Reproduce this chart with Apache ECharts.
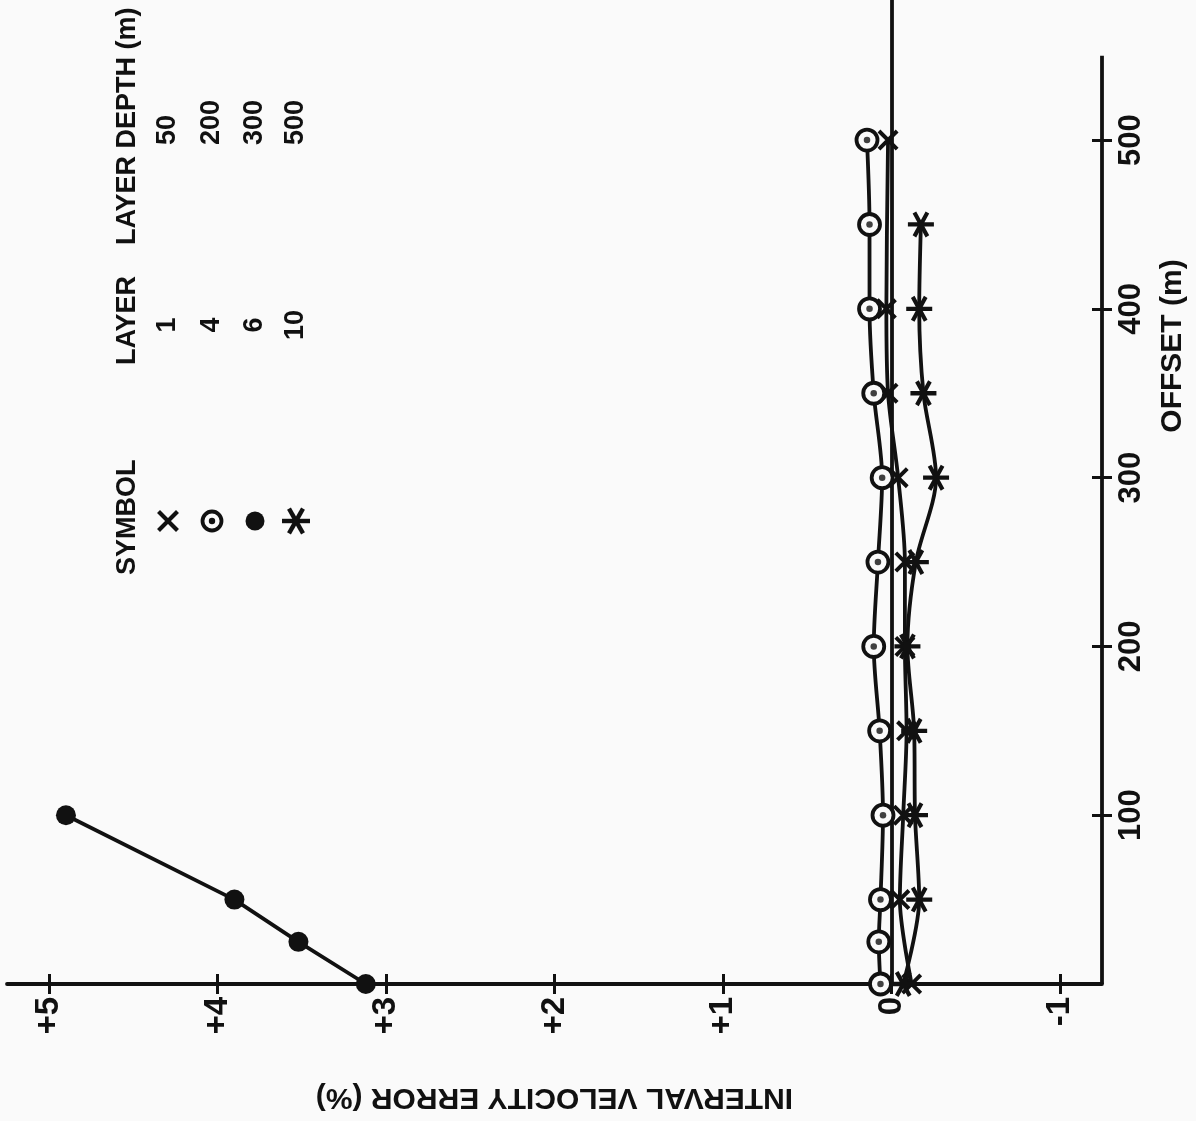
<!DOCTYPE html>
<html>
<head>
<meta charset="utf-8">
<script src="https://cdn.jsdelivr.net/npm/echarts@6/dist/echarts.min.js"></script>
<style>
html,body{margin:0;padding:0;background:#fafafa;}
#chart{width:1196px;height:1121px;}
</style>
</head>
<body>
<div id="chart"></div>
<script>
// ---------------- DATA ----------------
const errorTicks = [-1, 0, 1, 2, 3, 4, 5];
const errorTickLabels = ['-1', '0', '+1', '+2', '+3', '+4', '+5'];
const offsetTicks = [100, 200, 300, 400, 500];
const offsetTickLabels = ['100', '200', '300', '400', '500'];

// Layer 1 (depth 50 m) - cross symbol
const layer1Offset = [0, 50, 100, 150, 200, 250, 300, 350, 400, 500];
const layer1Error  = [-0.12, -0.05, -0.07, -0.09, -0.08, -0.08, -0.04, 0.02, 0.03, 0.02];
// Layer 4 (depth 200 m) - ringed dot
const layer4Offset = [0, 25, 50, 100, 150, 200, 250, 300, 350, 400, 450, 500];
const layer4Error  = [0.065, 0.075, 0.065, 0.05, 0.07, 0.105, 0.08, 0.055, 0.105, 0.13, 0.13, 0.145];
// Layer 6 (depth 300 m) - filled dot
const layer6Offset = [0, 25, 50, 100];
const layer6Error  = [3.12, 3.52, 3.9, 4.9];
// Layer 10 (depth 500 m) - asterisk
const layer10Offset = [0, 50, 100, 150, 200, 250, 300, 350, 400, 450];
const layer10Error  = [-0.07, -0.165, -0.14, -0.135, -0.095, -0.145, -0.265, -0.19, -0.165, -0.175];

// legend table
const legendLayers = ['1', '4', '6', '10'];
const legendDepths = ['50', '200', '300', '500'];

// axis extents
const ERR_MIN = -1.25, ERR_MAX = 5.25;
const OFF_MIN = 0, OFF_MAX = 583, OFF_AXIS_TOP = 550;

// ---------------- STYLE ----------------
const INK = '#111';
const BG = '#fafafa';
const FONT = '"Liberation Sans", Arial, sans-serif';
const FS = 31;      // axis text
const LFS = 27;     // legend text

// marker outlines in a 24x24 box
const X_BARS = [
  [[1.5, 4.3], [4.3, 1.5], [22.5, 19.7], [19.7, 22.5]],
  [[19.7, 1.5], [22.5, 4.3], [4.3, 22.5], [1.5, 19.7]]
];
const STAR_BARS = [
  [[0, 10.1], [24, 10.1], [24, 13.9], [0, 13.9]],
  [[4.35, 2.36], [7.65, 0.46], [19.65, 21.64], [16.35, 23.54]],
  [[16.35, 0.46], [19.65, 2.36], [7.65, 23.54], [4.35, 21.64]]
];
function toPath(bars) {
  return 'path://' + bars.map(b => 'M' + b.map(p => p[0] + ' ' + p[1]).join('L') + 'Z').join(' ');
}
const X_PATH = toPath(X_BARS);
const STAR_PATH = toPath(STAR_BARS);

function pairs(errs, offs) { return offs.map((o, i) => [errs[i], o]); }

const lineBase = {
  type: 'line', xAxisIndex: 0, yAxisIndex: 0, smooth: 0.3,
  lineStyle: { color: INK, width: 3.8 }, itemStyle: { color: INK },
  animation: false, z: 3
};
const tickLine = { color: INK, width: 3 };
const textBase = { color: INK, fontFamily: FONT, fontWeight: 'bold', fontSize: FS };

// legend graphics
const legendX = [168, 212, 255, 296];
const graphics = [];
function gtext(text, x, y, align) {
  graphics.push({ type: 'text', x: x, y: y, rotation: Math.PI / 2,
    style: { text: text, fill: INK, font: 'bold ' + LFS + 'px ' + FONT, textAlign: align, textVerticalAlign: 'middle' } });
}
function gbars(bars, cx, cy, size) {
  const s = size / 24;
  bars.forEach(b => graphics.push({ type: 'polygon',
    shape: { points: b.map(p => [cx + (p[0] - 12) * s, cy + (p[1] - 12) * s]) },
    style: { fill: INK } }));
}
gtext('SYMBOL', 128, 575, 'left');
gtext('LAYER', 128, 365, 'left');
gtext('LAYER DEPTH (m)', 128, 245, 'left');
legendLayers.forEach((t, i) => gtext(t, legendX[i], 325, 'center'));
legendDepths.forEach((t, i) => gtext(t, legendX[i], 145, 'left'));
const symY = 521;
gbars(X_BARS, legendX[0], symY, 25);
graphics.push({ type: 'circle', shape: { cx: legendX[1], cy: symY, r: 9.5 }, style: { fill: BG, stroke: INK, lineWidth: 3.8 } });
graphics.push({ type: 'circle', shape: { cx: legendX[1], cy: symY, r: 3.2 }, style: { fill: INK } });
graphics.push({ type: 'circle', shape: { cx: legendX[2], cy: symY, r: 9.5 }, style: { fill: INK } });
gbars(STAR_BARS, legendX[3], symY, 28);

const option = {
  backgroundColor: BG,
  animation: false,
  grid: { left: 7, right: 89, top: 0, bottom: 137, containLabel: false },
  xAxis: [
    {
      type: 'value', min: ERR_MIN, max: ERR_MAX, inverse: true, position: 'bottom',
      axisLine: { show: true, onZero: false, lineStyle: { color: INK, width: 3.8 } },
      axisTick: { show: true, customValues: errorTicks, length: 10, lineStyle: tickLine },
      axisLabel: { show: true, customValues: errorTicks, rotate: 90, margin: 13,
        formatter: v => { const k = errorTicks.indexOf(Math.round(v)); return k >= 0 ? errorTickLabels[k] : ''; },
        ...textBase, fontSize: 33 },
      splitLine: { show: false },
      name: 'INTERVAL VELOCITY ERROR (%)', nameLocation: 'middle', nameRotate: 180, nameGap: 98,
      nameTextStyle: { ...textBase, fontSize: 30 }
    },
    {
      type: 'value', min: ERR_MIN, max: ERR_MAX, inverse: true, position: 'bottom',
      axisLine: { show: false, onZero: false },
      axisTick: { show: true, inside: true, customValues: errorTicks, length: 10, lineStyle: tickLine },
      axisLabel: { show: false }, splitLine: { show: false }
    }
  ],
  yAxis: [
    {
      type: 'value', min: OFF_MIN, max: OFF_MAX, position: 'right',
      axisLine: { show: false, onZero: false },
      axisTick: { show: true, customValues: offsetTicks, length: 10, lineStyle: tickLine },
      axisLabel: { show: true, customValues: offsetTicks, rotate: 90, margin: 14,
        formatter: v => { const k = offsetTicks.indexOf(Math.round(v)); return k >= 0 ? offsetTickLabels[k] : ''; },
        ...textBase },
      splitLine: { show: false },
      name: 'OFFSET (m)', nameLocation: 'middle', nameRotate: 90, nameGap: 56,
      nameTextStyle: { ...textBase, fontSize: 30, padding: [0, 0, 0, 292] }
    },
    {
      type: 'value', min: OFF_MIN, max: OFF_MAX, position: 'right',
      axisLine: { show: false, onZero: false },
      axisTick: { show: true, inside: true, customValues: offsetTicks, length: 10, lineStyle: tickLine },
      axisLabel: { show: false }, splitLine: { show: false }
    }
  ],
  graphic: graphics,
  series: [
    {
      ...lineBase, name: 'Layer 1 (50 m)', data: pairs(layer1Error, layer1Offset),
      symbol: X_PATH, symbolSize: 21,
      markLine: {
        silent: true, z: 1, symbol: ['none', 'none'], label: { show: false }, animation: false,
        lineStyle: { color: INK, width: 3.8, type: 'solid' },
        emphasis: { disabled: true },
        data: [
          { xAxis: 0 },
          [{ coord: [ERR_MIN, OFF_MIN] }, { coord: [ERR_MIN, OFF_AXIS_TOP] }]
        ]
      }
    },
    {
      ...lineBase, name: 'Layer 4 (200 m)', data: pairs(layer4Error, layer4Offset),
      symbol: 'circle', symbolSize: 21,
      itemStyle: { color: BG, borderColor: INK, borderWidth: 3.8 }
    },
    {
      type: 'scatter', name: 'Layer 4 centre', xAxisIndex: 0, yAxisIndex: 0,
      data: pairs(layer4Error, layer4Offset), symbol: 'circle', symbolSize: 6.5,
      itemStyle: { color: INK }, z: 5, animation: false, silent: true
    },
    {
      ...lineBase, name: 'Layer 6 (300 m)', data: pairs(layer6Error, layer6Offset), smooth: false,
      symbol: 'circle', symbolSize: 20
    },
    {
      ...lineBase, name: 'Layer 10 (500 m)', data: pairs(layer10Error, layer10Offset),
      symbol: STAR_PATH, symbolSize: 26
    }
  ]
};
const chart = echarts.init(document.getElementById('chart'), null, { renderer: 'canvas' });
chart.setOption(option);
</script>
</body>
</html>
